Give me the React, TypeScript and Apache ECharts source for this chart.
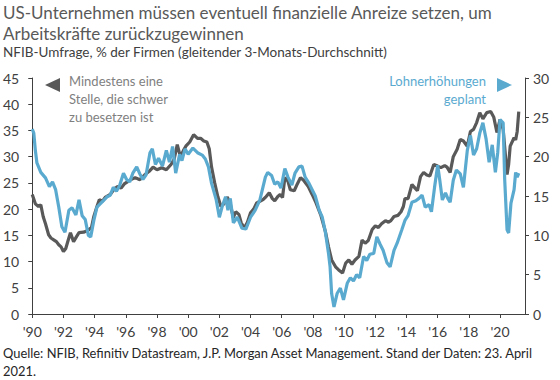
import React, { useEffect, useRef } from "react";
import * as echarts from "echarts";

const FONT = "Lato, 'Open Sans', sans-serif";

const titleText = "US-Unternehmen müssen eventuell finanzielle Anreize setzen, um\nArbeitskräfte zurückzugewinnen";
const subtitleText = "NFIB-Umfrage, % der Firmen (gleitender 3-Monats-Durchschnitt)";
const sourceText = "Quelle: NFIB, Refinitiv Datastream, J.P. Morgan Asset Management. Stand der Daten: 23. April\n2021.";
const leftLegend = "Mindestens eine\nStelle, die schwer\nzu besetzen ist";
const rightLegend = "Lohnerhöhungen\ngeplant";

// [decimal year, % of firms] – left axis
const hardToFill: [number, number][] = [
  [1990.0, 22.8], [1990.2, 21.0], [1990.4, 20.5], [1990.55, 20.8], [1990.7, 18.6], [1990.85, 17.2],
  [1991.05, 15.1], [1991.2, 14.5], [1991.4, 14.1], [1991.55, 13.8], [1991.7, 13.2], [1991.85, 12.8],
  [1992.0, 11.9], [1992.15, 12.5], [1992.3, 14.0], [1992.45, 15.5], [1992.65, 13.8], [1992.85, 14.8],
  [1993.0, 15.5], [1993.3, 15.6], [1993.6, 16.0], [1993.8, 16.5], [1993.95, 18.6], [1994.15, 20.5],
  [1994.3, 21.8], [1994.5, 21.5], [1994.7, 22.3], [1995.0, 22.8], [1995.2, 23.6], [1995.45, 24.3],
  [1995.7, 24.0], [1995.9, 24.8], [1996.1, 25.2], [1996.3, 25.6], [1996.6, 26.0], [1996.9, 25.6],
  [1997.2, 26.5], [1997.5, 27.2], [1997.75, 28.0], [1998.0, 27.5], [1998.3, 27.9], [1998.6, 27.5],
  [1998.9, 28.5], [1999.1, 29.5], [1999.3, 32.3], [1999.5, 30.0], [1999.7, 31.2], [1999.85, 32.0],
  [2000.1, 32.8], [2000.35, 34.2], [2000.6, 33.5], [2000.8, 33.5], [2001.0, 33.0], [2001.2, 32.8],
  [2001.35, 31.5], [2001.5, 28.0], [2001.7, 25.0], [2001.9, 22.4], [2002.1, 20.5], [2002.3, 21.0],
  [2002.5, 22.3], [2002.65, 21.5], [2002.9, 18.4], [2003.05, 19.5], [2003.25, 19.0], [2003.4, 17.4],
  [2003.6, 16.4], [2003.8, 17.5], [2004.0, 19.3], [2004.2, 20.0], [2004.4, 21.2], [2004.6, 21.5],
  [2004.8, 21.8], [2005.0, 22.4], [2005.2, 23.1], [2005.4, 22.0], [2005.55, 21.6], [2005.75, 22.4],
  [2005.9, 22.8], [2006.05, 22.2], [2006.2, 26.0], [2006.4, 25.3], [2006.55, 23.7], [2006.8, 23.5],
  [2007.0, 24.8], [2007.2, 26.0], [2007.4, 25.5], [2007.7, 24.3], [2007.95, 22.8], [2008.2, 21.2],
  [2008.5, 18.9], [2008.8, 15.7], [2009.0, 12.8], [2009.2, 10.3], [2009.45, 9.0], [2009.65, 8.4],
  [2009.9, 7.8], [2010.1, 9.7], [2010.3, 10.3], [2010.5, 9.5], [2010.7, 10.3], [2010.95, 11.0],
  [2011.15, 14.1], [2011.35, 13.5], [2011.55, 14.0], [2011.8, 16.1], [2012.0, 16.8], [2012.2, 16.5],
  [2012.4, 17.2], [2012.65, 17.8], [2012.85, 17.5], [2013.0, 17.8], [2013.2, 18.6], [2013.45, 18.8],
  [2013.65, 19.5], [2013.8, 20.5], [2013.9, 22.0], [2014.1, 22.0], [2014.35, 24.7], [2014.55, 24.0],
  [2014.7, 23.5], [2014.9, 26.2], [2015.1, 27.0], [2015.3, 26.5], [2015.5, 26.3], [2015.75, 28.5],
  [2016.0, 28.2], [2016.2, 27.9], [2016.45, 28.3], [2016.6, 28.0], [2016.8, 27.0], [2017.0, 30.0],
  [2017.25, 31.4], [2017.45, 33.3], [2017.65, 33.0], [2017.9, 32.0], [2018.1, 34.8], [2018.3, 35.2],
  [2018.5, 36.5], [2018.7, 38.4], [2018.9, 37.2], [2019.15, 38.4], [2019.4, 38.6], [2019.6, 37.5],
  [2019.8, 34.6], [2020.0, 37.1], [2020.2, 35.2], [2020.45, 26.6], [2020.55, 28.5], [2020.65, 32.0],
  [2020.9, 33.6], [2021.0, 33.2], [2021.1, 34.8], [2021.2, 38.6],
];

// [decimal year, % of firms] – right axis
const wageIncreases: [number, number][] = [
  [1990.0, 23.5], [1990.1, 23.0], [1990.2, 20.8], [1990.3, 19.2], [1990.55, 18.0], [1990.85, 17.3],
  [1991.1, 16.2], [1991.3, 16.8], [1991.5, 15.8], [1991.7, 13.6], [1991.9, 11.1], [1992.1, 10.4],
  [1992.35, 13.2], [1992.55, 13.5], [1992.8, 12.6], [1993.0, 14.5], [1993.2, 12.5], [1993.4, 12.0],
  [1993.6, 10.0], [1993.75, 9.8], [1993.95, 11.9], [1994.15, 13.6], [1994.5, 14.3], [1994.8, 14.9],
  [1995.0, 15.1], [1995.2, 16.1], [1995.4, 15.6], [1995.6, 16.3], [1995.85, 17.9], [1996.05, 17.1],
  [1996.25, 16.8], [1996.45, 17.9], [1996.7, 18.7], [1996.9, 17.8], [1997.1, 17.1], [1997.3, 17.7],
  [1997.55, 20.5], [1997.7, 21.0], [1997.9, 19.0], [1998.1, 19.8], [1998.35, 18.8], [1998.6, 20.8],
  [1998.8, 19.3], [1999.0, 21.3], [1999.2, 17.9], [1999.45, 20.3], [1999.6, 19.5], [1999.8, 21.0],
  [2000.0, 20.3], [2000.3, 21.1], [2000.6, 20.5], [2000.9, 20.2], [2001.1, 19.7], [2001.3, 18.7],
  [2001.5, 16.6], [2001.8, 14.5], [2002.0, 12.3], [2002.2, 13.8], [2002.4, 14.9], [2002.55, 13.2],
  [2002.7, 14.7], [2002.9, 11.6], [2003.15, 12.3], [2003.45, 10.9], [2003.7, 10.8], [2004.0, 12.3],
  [2004.3, 13.2], [2004.6, 14.5], [2004.95, 17.4], [2005.1, 18.0], [2005.35, 17.6], [2005.55, 16.5],
  [2005.75, 16.8], [2005.95, 16.0], [2006.2, 18.5], [2006.4, 17.4], [2006.65, 16.4], [2006.85, 17.9],
  [2007.1, 18.7], [2007.3, 18.8], [2007.5, 17.4], [2007.75, 16.6], [2007.95, 15.8], [2008.15, 15.0],
  [2008.4, 13.2], [2008.6, 12.3], [2008.8, 10.4], [2009.0, 7.7], [2009.1, 6.0], [2009.2, 2.6],
  [2009.35, 0.9], [2009.55, 2.6], [2009.76, 3.3], [2009.96, 1.8], [2010.2, 3.9], [2010.4, 4.6],
  [2010.6, 4.2], [2010.8, 5.0], [2011.0, 4.6], [2011.25, 7.3], [2011.45, 6.8], [2011.65, 7.6],
  [2011.9, 7.7], [2012.1, 9.8], [2012.3, 8.9], [2012.5, 8.1], [2012.75, 6.5], [2012.95, 6.0],
  [2013.2, 8.1], [2013.4, 9.0], [2013.7, 10.7], [2013.9, 11.9], [2014.1, 12.5], [2014.35, 14.2],
  [2014.6, 14.4], [2014.8, 14.7], [2015.0, 15.1], [2015.2, 13.6], [2015.45, 13.9], [2015.6, 13.0],
  [2015.8, 16.1], [2016.0, 18.9], [2016.15, 16.8], [2016.3, 14.5], [2016.5, 15.4], [2016.65, 14.7],
  [2016.8, 14.2], [2017.0, 17.0], [2017.2, 18.3], [2017.45, 17.8], [2017.65, 16.1], [2017.9, 20.8],
  [2018.1, 22.7], [2018.3, 20.2], [2018.5, 21.0], [2018.7, 23.0], [2018.9, 24.3], [2019.1, 22.3],
  [2019.3, 19.3], [2019.5, 21.5], [2019.7, 18.0], [2019.85, 20.5], [2020.0, 24.7], [2020.2, 24.3],
  [2020.3, 17.0], [2020.45, 10.7], [2020.55, 10.3], [2020.7, 14.1], [2020.9, 15.8], [2021.0, 18.0],
  [2021.1, 17.4], [2021.2, 17.9],
];

const GRAY = "#595959";
const BLUE = "#5aaad0";
const AXIS = "#404040";

export default function App() {
  const ref = useRef<HTMLDivElement>(null);
  useEffect(() => {
    if (!ref.current) return;
    const chart = echarts.init(ref.current, undefined, { renderer: "svg" });
    const axisLabel = { color: AXIS, fontSize: 14, fontFamily: FONT };
    chart.setOption({
      animation: false,
      backgroundColor: "#ffffff",
      grid: { left: 32, right: 35, top: 78, bottom: 66, containLabel: false },
      xAxis: {
        type: "value",
        min: 1990,
        max: 2021.6,
        interval: 2,
        splitLine: { show: false },
        axisLine: { show: true, lineStyle: { color: AXIS, width: 1 } },
        axisTick: { show: true, length: 4, lineStyle: { color: AXIS } },
        axisLabel: {
          ...axisLabel,
          margin: 10,
          showMaxLabel: false,
          formatter: (v: number) => "'" + String(Math.round(v)).slice(2),
        },
      },
      yAxis: [
        {
          type: "value",
          min: 0,
          max: 45,
          interval: 5,
          position: "left",
          splitLine: { show: false },
          axisLine: { show: true, lineStyle: { color: AXIS, width: 1 } },
          axisTick: { show: true, length: 4, lineStyle: { color: AXIS } },
          axisLabel: { ...axisLabel, margin: 13 },
        },
        {
          type: "value",
          min: 0,
          max: 30,
          interval: 5,
          position: "right",
          splitLine: { show: false },
          axisLine: { show: true, lineStyle: { color: AXIS, width: 1 } },
          axisTick: { show: true, length: 4, lineStyle: { color: AXIS } },
          axisLabel: { ...axisLabel, margin: 8 },
        },
      ],
      series: [
        {
          name: "Mindestens eine Stelle, die schwer zu besetzen ist",
          type: "line",
          yAxisIndex: 0,
          data: hardToFill,
          showSymbol: false,
          lineStyle: { color: GRAY, width: 3.2 },
          itemStyle: { color: GRAY },
        },
        {
          name: "Lohnerhöhungen geplant",
          type: "line",
          yAxisIndex: 1,
          data: wageIncreases,
          showSymbol: false,
          lineStyle: { color: BLUE, width: 3.2 },
          itemStyle: { color: BLUE },
        },
      ],
      graphic: [
        {
          type: "text",
          left: 3,
          top: 2,
          style: { text: titleText, fontSize: 17, lineHeight: 21, fill: "#595959", fontFamily: FONT },
        },
        {
          type: "text",
          left: 3,
          top: 44,
          style: { text: subtitleText, fontSize: 13.5, lineHeight: 16, fill: "#404040", fontFamily: FONT },
        },
        {
          type: "text",
          left: 3,
          top: 344,
          style: { text: sourceText, fontSize: 12.9, lineHeight: 18, fill: "#262626", fontFamily: FONT },
        },
        {
          type: "polygon",
          shape: { points: [[45, 85], [60, 78], [60, 92]] },
          style: { fill: GRAY },
        },
        {
          type: "text",
          x: 69,
          y: 72,
          style: { text: leftLegend, fontSize: 13, lineHeight: 18, fill: "#7f7f7f", fontFamily: FONT, verticalAlign: "top" },
        },
        {
          type: "polygon",
          shape: { points: [[512, 85], [497, 78], [497, 92]] },
          style: { fill: BLUE },
        },
        {
          type: "text",
          x: 486,
          y: 72,
          style: { text: rightLegend, fontSize: 13, lineHeight: 18, fill: BLUE, fontFamily: FONT, align: "right", verticalAlign: "top" },
        },
      ],
    });
    return () => chart.dispose();
  }, []);
  return <div ref={ref} style={{ position: "absolute", left: 0, top: 0, width: 560, height: 380 }} />;
}
